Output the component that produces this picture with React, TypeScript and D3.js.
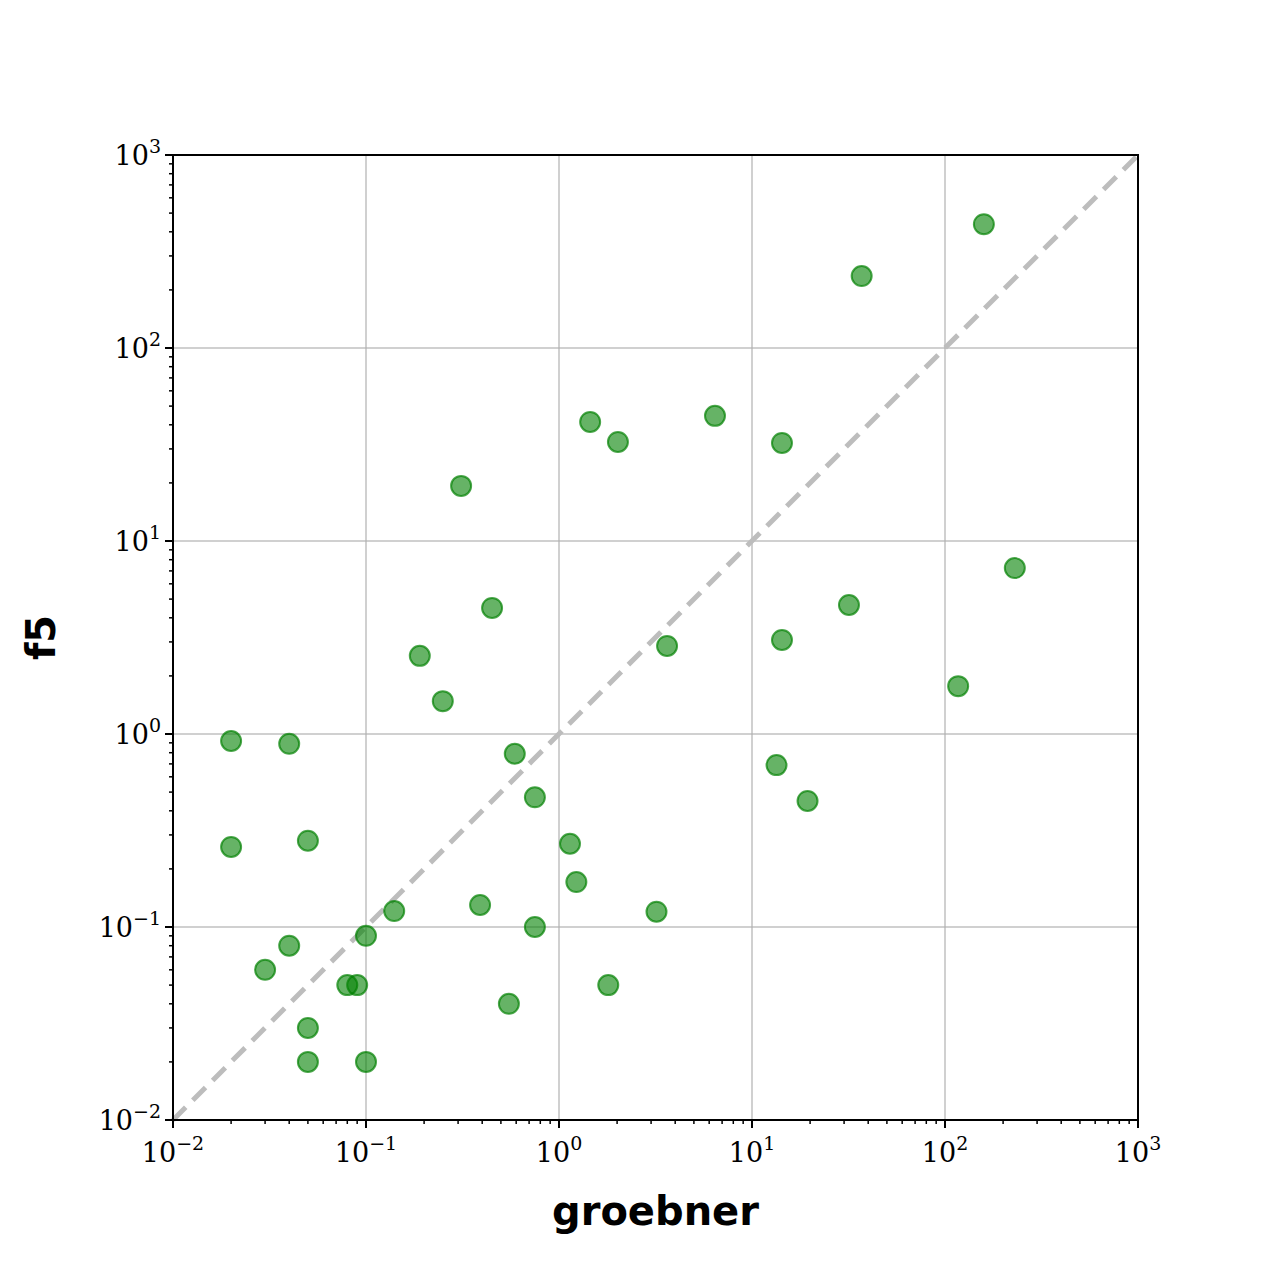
import * as d3 from "d3";

const groebner = [159, 37, 6.43, 1.45, 2.02, 14.3, 0.311, 230, 31.8, 0.45, 14.3, 3.63, 0.19, 0.25, 117, 0.02, 0.04, 0.59, 13.4, 0.75, 19.4, 0.02, 0.05, 1.14, 1.23, 0.14, 0.39, 3.2, 0.75, 0.1, 0.04, 0.03, 0.08, 0.09, 1.8, 0.55, 0.05, 0.05, 0.1];
const f5 = [438, 236, 44.5, 41.4, 32.6, 32.2, 19.3, 7.24, 4.66, 4.5, 3.07, 2.86, 2.54, 1.48, 1.77, 0.92, 0.89, 0.79, 0.69, 0.47, 0.45, 0.26, 0.28, 0.27, 0.171, 0.121, 0.13, 0.12, 0.1, 0.09, 0.08, 0.06, 0.05, 0.05, 0.05, 0.04, 0.03, 0.02, 0.02];
const decades = [-2, -1, 0, 1, 2, 3];

const W = 1280, H = 1280;
const left = 173, right = 1138, top = 155, bottom = 1120;

export default function App() {
  const x = d3.scaleLog().domain([0.01, 1000]).range([left, right]);
  const y = d3.scaleLog().domain([0.01, 1000]).range([bottom, top]);
  const minors: number[] = [];
  decades.slice(0, -1).forEach((e) => {
    for (let k = 2; k <= 9; k++) minors.push(k * Math.pow(10, e));
  });
  const serif = "'DejaVu Serif', serif";
  return (
    <svg width={W} height={H} style={{ position: "absolute", left: 0, top: 0, background: "#fff" }}>
      {decades.map((e) => (
        <g key={e}>
          <line x1={x(10 ** e)} x2={x(10 ** e)} y1={top} y2={bottom} stroke="#b0b0b0" strokeOpacity={0.6} strokeWidth={2} />
          <line y1={y(10 ** e)} y2={y(10 ** e)} x1={left} x2={right} stroke="#b0b0b0" strokeOpacity={0.6} strokeWidth={2} />
        </g>
      ))}
      <line x1={x(0.01)} y1={y(0.01)} x2={x(1000)} y2={y(1000)} stroke="#bdbdbd" strokeWidth={5} strokeDasharray="18,10" />
      {groebner.map((g, i) => (
        <circle key={i} cx={x(g)} cy={y(f5[i])} r={10} fill="green" fillOpacity={0.6} stroke="green" strokeOpacity={0.7} strokeWidth={2} />
      ))}
      <rect x={left} y={top} width={right - left} height={bottom - top} fill="none" stroke="#000" strokeWidth={2} />
      {decades.map((e) => (
        <g key={"t" + e} fontFamily={serif} fontSize={27}>
          <line x1={x(10 ** e)} x2={x(10 ** e)} y1={bottom} y2={bottom + 8} stroke="#000" strokeWidth={2} />
          <line y1={y(10 ** e)} y2={y(10 ** e)} x1={left} x2={left - 8} stroke="#000" strokeWidth={2} />
          <text x={x(10 ** e)} y={bottom + 42} textAnchor="middle">
            10<tspan dy={-12} fontSize={19}>{e < 0 ? "\u2212" + -e : e}</tspan>
          </text>
          <text x={left - 12} y={y(10 ** e) + 10} textAnchor="end">
            10<tspan dy={-12} fontSize={19}>{e < 0 ? "\u2212" + -e : e}</tspan>
          </text>
        </g>
      ))}
      {minors.map((m, i) => (
        <g key={"m" + i}>
          <line x1={x(m)} x2={x(m)} y1={bottom} y2={bottom + 4} stroke="#000" strokeWidth={1.5} />
          <line y1={y(m)} y2={y(m)} x1={left} x2={left - 4} stroke="#000" strokeWidth={1.5} />
        </g>
      ))}
      <text x={(left + right) / 2} y={1225} textAnchor="middle" fontFamily="'DejaVu Sans', sans-serif" fontWeight="bold" fontSize={40}>groebner</text>
      <text transform={`translate(55,${(top + bottom) / 2}) rotate(-90)`} textAnchor="middle" fontFamily="'DejaVu Sans', sans-serif" fontWeight="bold" fontSize={40}>f5</text>
    </svg>
  );
}
